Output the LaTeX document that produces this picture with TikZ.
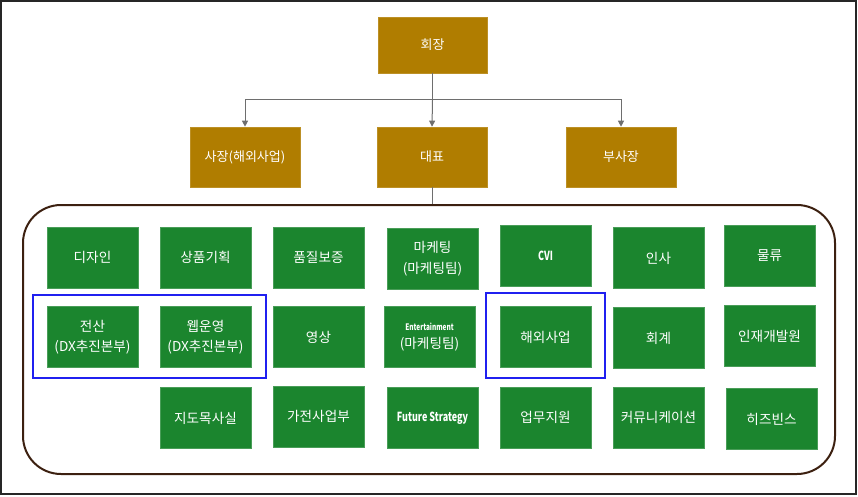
\documentclass[tikz,border=0pt]{standalone}
\usepackage{fontspec}
\setmainfont{Noto Sans CJK KR}
\newfontfamily\narrowfont[FakeStretch=0.72]{Noto Sans CJK KR}
\usetikzlibrary{arrows.meta}
\definecolor{gold}{RGB}{176,125,0}
\definecolor{grn}{RGB}{27,133,46}
\definecolor{brn}{RGB}{60,32,16}
\definecolor{blu}{RGB}{32,32,240}
\definecolor{conn}{RGB}{110,110,110}
\tikzset{
  topbox/.style={fill=gold, draw=gold!85!white, line width=0.6pt, text=white, minimum width=110, minimum height=60, inner sep=0pt, font=\fontsize{13}{16}\selectfont, align=center},
  dept/.style={fill=grn, draw=grn!80!white, line width=0.6pt, text=white, minimum width=91, minimum height=61, inner sep=0pt, font=\fontsize{13.6}{21}\selectfont, align=center},
  linkline/.style={draw=conn, line width=1pt},
  arrowline/.style={linkline, -{Triangle[length=6pt,width=6pt]}},
  hilite/.style={draw=blu, line width=2.6pt},
  latinb/.style={font=\fontsize{12.5}{15}\selectfont\narrowfont\bfseries}
}
\begin{document}
\begin{tikzpicture}[x=1pt,y=-1pt]
\useasboundingbox (0,0) rectangle (858,497);
\draw[line width=1.5pt, draw=black!85] (1,1) rectangle (856,494);

% top
\node[topbox, minimum width=109, minimum height=56] (ceo) at (432.5,45) {회장};
\node[topbox] (pres) at (245,157) {사장(해외사업)};
\node[topbox] (rep) at (432,157) {대표};
\node[topbox] (vp) at (621,157) {부사장};
\coordinate (bus) at (432.5,100);
\draw[linkline] (ceo.south) -- (bus);
\draw[arrowline] (bus) -| (pres.north);
\draw[arrowline] (bus) -| (vp.north);
\draw[arrowline] (bus) -- (rep.north);

% container
\node[draw=brn, line width=2pt, rounded corners=38pt, minimum width=812, minimum height=269, inner sep=0pt] (cont) at (429,339.5) {};
\draw[linkline] (rep.south) -- (cont.north -| rep.south);

% row 1
\node[dept] (d11) at (92.5,257.5) {디자인};
\node[dept] (d12) at (205.5,257.5) {상품기획};
\node[dept] (d13) at (318.5,257.5) {품질보증};
\node[dept] (d14) at (432.5,258.5) {마케팅\\(마케팅팀)};
\node[dept, latinb] (d15) at (545.5,256) {CVI};
\node[dept] (d16) at (658.5,258) {인사};
\node[dept] (d17) at (769.5,256) {물류};

% row 2
\node[dept, font=\fontsize{13.6}{20}\selectfont] (d21) at (92.5,337) {전산\\(DX추진본부)};
\node[dept, font=\fontsize{13.6}{20}\selectfont] (d22) at (205.5,337) {웹운영\\(DX추진본부)};
\node[dept] (d23) at (318.5,337) {영상};
\node[dept, font=\fontsize{13.6}{18}\selectfont] (d24) at (429.5,337) {{\fontsize{9}{10}\selectfont\narrowfont\bfseries Entertainment}\\(마케팅팀)};
\node[dept] (d25) at (545.5,337) {해외사업};
\node[dept] (d26) at (658.5,338) {회계};
\node[dept] (d27) at (769.5,336) {인재개발원};

% row 3
\node[dept] (d32) at (205.5,418) {지도목사실};
\node[dept] (d33) at (318.5,416.5) {가전사업부};
\node[dept, latinb] (d34) at (432.5,418) {Future Strategy};
\node[dept] (d35) at (545.5,417.5) {업무지원};
\node[dept] (d36) at (658.5,417.5) {커뮤니케이션};
\node[dept] (d37) at (771.5,419) {히즈빈스};

% highlights
\draw[hilite] (33,295) rectangle (266,378);
\draw[hilite] (486,293) rectangle (605,378);
\end{tikzpicture}
\end{document}
